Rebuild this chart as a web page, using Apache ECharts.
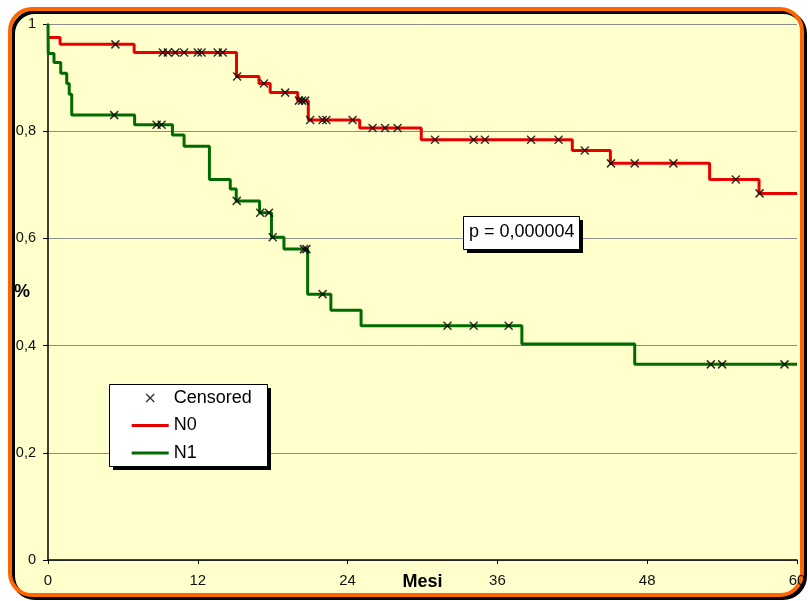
<!DOCTYPE html>
<html>
<head>
<meta charset="utf-8">
<script src="https://cdn.jsdelivr.net/npm/echarts@6/dist/echarts.min.js"></script>
<style>html,body{margin:0;padding:0;background:#fff}#c{width:808px;height:601px}</style>
</head>
<body>
<div id="c"></div>
<script>
// Kaplan-Meier step data (time in months, survival value holding from that time)
var n0Times = [0, 0.97, 6.9, 15.1, 16.9, 17.8, 20.0, 20.85, 24.97, 29.9, 42.0, 45.05, 53.0, 56.96, 60];
var n0Surv  = [0.975, 0.962, 0.947, 0.902, 0.889, 0.872, 0.857, 0.821, 0.806, 0.784, 0.764, 0.740, 0.710, 0.684, 0.684];
var n1Times = [0, 0.02, 0.48, 1.02, 1.5, 1.7, 1.9, 6.94, 9.97, 10.9, 12.93, 14.6, 15.08, 16.95, 17.9, 18.9, 20.8, 22.66, 25.08, 37.96, 47.0, 60];
var n1Surv  = [1, 0.945, 0.928, 0.908, 0.889, 0.869, 0.830, 0.812, 0.793, 0.772, 0.710, 0.692, 0.670, 0.648, 0.602, 0.580, 0.496, 0.466, 0.437, 0.403, 0.365, 0.365];
// censored observation times
var n0Censored = [5.4, 9.2, 9.6, 10.2, 10.9, 12.0, 12.3, 13.6, 14.0, 15.15, 17.3, 19.0, 20.1, 20.35, 20.6, 21.0, 22.0, 22.3, 24.4, 26.0, 27.0, 28.0, 31.0, 34.1, 35.0, 38.7, 40.9, 43.0, 45.1, 47.0, 50.1, 55.1, 57.0];
var n1Censored = [5.3, 8.7, 9.1, 15.12, 17.0, 17.7, 18.0, 20.5, 20.7, 22.0, 32.0, 34.1, 36.9, 53.1, 54.0, 59.0];
var xTicks = [0, 12, 24, 36, 48, 60];
var seriesNames = ['Censored', 'N0', 'N1'];
var pText = 'p = 0,000004';

function pairs(t, v) { return t.map(function (x, i) { return [x, v[i]]; }); }
function stepAt(t, times, surv) {
  var val = surv[0];
  for (var i = 0; i < times.length; i++) { if (times[i] <= t) val = surv[i]; }
  return val;
}
var censData = n0Censored.map(function (t) { return [t, stepAt(t, n0Times, n0Surv)]; })
  .concat(n1Censored.map(function (t) { return [t, stepAt(t, n1Times, n1Surv)]; }));

var font = 'Liberation Sans, Arial, sans-serif';
var xPath = 'path://M0,0L10,10M10,0L0,10';
var xLegendPath = 'path://M0,0M14.5,3.5L22.5,11.5M22.5,3.5L14.5,11.5M37,15';
var lineLegendPath = 'path://M0,0M0,6H37V9H0ZM37,15';

var chart = echarts.init(document.getElementById('c'), null, {renderer: 'canvas'});
chart.setOption({
  backgroundColor: '#ffffff',
  animation: false,
  graphic: [
    {type: 'rect', z: -100, silent: true,
     shape: {x: 10, y: 9, width: 792, height: 586, r: 22},
     style: {fill: '#FFFFCC', stroke: '#FF6600', lineWidth: 4, shadowColor: '#000', shadowOffsetX: 3, shadowOffsetY: 3, shadowBlur: 0}},
    {type: 'rect', z: 3, z2: 1, silent: true, shape: {x: 113, y: 388, width: 158, height: 82}, style: {fill: '#000'}},
    {type: 'rect', z: 3, z2: 2, silent: true, shape: {x: 109.5, y: 384.5, width: 158, height: 82}, style: {fill: '#fff', stroke: '#000', lineWidth: 1}},
    {type: 'rect', z: 3, z2: 1, silent: true, shape: {x: 467, y: 220, width: 116, height: 33}, style: {fill: '#000'}},
    {type: 'rect', z: 3, z2: 2, silent: true, shape: {x: 463.5, y: 216.5, width: 116, height: 33}, style: {fill: '#fff', stroke: '#000', lineWidth: 1}}
  ],
  title: {
    text: pText, left: 463, top: 216,
    padding: [6, 6, 6, 6],
    textStyle: {fontSize: 18, lineHeight: 21, fontWeight: 'normal', color: '#000', fontFamily: font}
  },
  legend: {
    orient: 'vertical', left: 131, top: 389,
    padding: 0,
    itemWidth: 37, itemHeight: 15, itemGap: 9.5,
    textStyle: {fontSize: 18, lineHeight: 18, color: '#000', fontFamily: font},
    data: [
      {name: seriesNames[0], icon: xLegendPath, itemStyle: {color: 'transparent', borderColor: '#000', borderWidth: 1.4}},
      {name: seriesNames[1], icon: lineLegendPath, itemStyle: {color: '#E60000', borderWidth: 0}},
      {name: seriesNames[2], icon: lineLegendPath, itemStyle: {color: '#006B00', borderWidth: 0}}
    ]
  },
  grid: {left: 48, top: 24, right: 11, bottom: 41, containLabel: false, outerBoundsMode: 'none'},
  xAxis: {
    type: 'value', min: 0, max: 60, interval: 12,
    name: 'Mesi', nameLocation: 'middle', nameGap: 13, nameMoveOverlap: false,
    nameTextStyle: {fontSize: 18, fontWeight: 'bold', color: '#000', fontFamily: font},
    axisLine: {show: true, onZero: false, lineStyle: {color: '#000', width: 1.5}},
    axisTick: {show: true, length: 4, lineStyle: {color: '#000'}},
    axisLabel: {fontSize: 15, color: '#111', margin: 13, fontFamily: font,
      formatter: function (v) { return xTicks.indexOf(v) >= 0 ? String(v) : ''; }},
    splitLine: {show: false}
  },
  yAxis: {
    type: 'value', min: 0, max: 1, interval: 0.2,
    name: '%', nameLocation: 'middle', nameGap: 18, nameRotate: 0, nameMoveOverlap: false,
    nameTextStyle: {fontSize: 18, fontWeight: 'bold', color: '#000', fontFamily: font},
    axisLine: {show: true, lineStyle: {color: '#000', width: 1.5}},
    axisTick: {show: true, length: 5, lineStyle: {color: '#000'}},
    axisLabel: {fontSize: 14.5, color: '#111', margin: 12, fontFamily: font,
      formatter: function (v) { return String(Math.round(v * 10) / 10).replace('.', ','); }},
    splitLine: {show: true, lineStyle: {color: '#8c8c8c', width: 1}}
  },
  series: [
    {
      name: seriesNames[0], type: 'scatter', data: censData, z: 5,
      symbol: xPath, symbolSize: 8,
      itemStyle: {color: 'transparent', borderColor: '#000', borderWidth: 1.5}
    },
    {
      name: seriesNames[1], type: 'line', step: 'end', data: pairs(n0Times, n0Surv),
      symbol: 'none', color: '#E60000', lineStyle: {color: '#E60000', width: 3}, z: 3
    },
    {
      name: seriesNames[2], type: 'line', step: 'end', data: pairs(n1Times, n1Surv),
      symbol: 'none', color: '#006B00', lineStyle: {color: '#006B00', width: 3}, z: 3
    }
  ]
});
</script>
</body>
</html>
